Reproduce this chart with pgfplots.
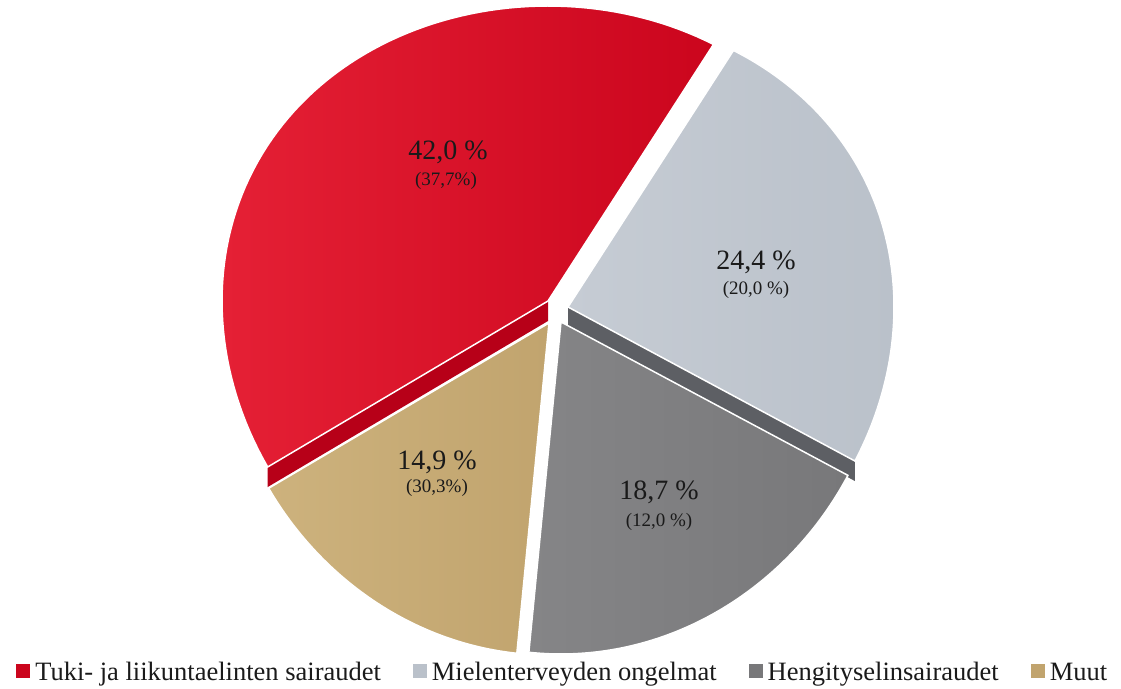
\documentclass[border=0pt]{standalone}
\usepackage{pgfplots}
\pgfplotsset{compat=1.18}
\usepackage{fontspec}
\setmainfont{Liberation Serif}

\definecolor{redA}{HTML}{E52035}
\definecolor{redB}{HTML}{CB051D}
\definecolor{redS}{HTML}{B70018}
\definecolor{lgA}{HTML}{C6CCD4}
\definecolor{lgB}{HTML}{BAC1CA}
\definecolor{lgS}{HTML}{5D5F64}
\definecolor{dgA}{HTML}{858587}
\definecolor{dgB}{HTML}{78787A}
\definecolor{tanA}{HTML}{CDB27D}
\definecolor{tanB}{HTML}{C1A46E}
\definecolor{txt}{HTML}{1A1A1A}

% shares (per cent)
\newcommand\valA{42.0}% Tuki- ja liikuntaelinten sairaudet
\newcommand\valB{24.4}% Mielenterveyden ongelmat
\newcommand\valC{18.7}% Hengityselinsairaudet
\newcommand\valD{14.9}% Muut

\pgfmathsetmacro\start{59.5}
\pgfmathsetmacro\aRedEnd{\start+3.6*\valA}
\pgfmathsetmacro\aLgEnd{\start-3.6*\valB}
\pgfmathsetmacro\aDgEnd{\aLgEnd-3.6*\valC}
\pgfmathsetmacro\aTanEnd{\aDgEnd-3.6*\valD}

% slice: t1, t2, cx, cy, colour A, colour B, lower radius
\newcommand\slice[7]{%
  \addplot[forget plot, draw=white, line width=1.5pt, left color=#5, right color=#6,
    domain=#1:#2, samples=90, variable=\t]
    ({#3+326*cos(\t)}, {#4+(315-#7*sin(\t))*sin(\t)}) -- (axis cs:#3,#4) -- cycle;
}

% red and light grey centres
\newcommand\rx{548}\newcommand\ry{387}
\newcommand\lx{568}\newcommand\ly{381}
% side faces
\pgfmathsetmacro\rcx{\rx+326*cos(\aRedEnd)}
\pgfmathsetmacro\rcy{\ry+(315-20*sin(\aRedEnd))*sin(\aRedEnd)}
\pgfmathsetmacro\rcyb{\rcy-20}
\pgfmathsetmacro\rayb{\ry-20}
\pgfmathsetmacro\lcx{\lx+326*cos(\aLgEnd)}
\pgfmathsetmacro\lcy{\ly+(315-20*sin(\aLgEnd))*sin(\aLgEnd)}
\pgfmathsetmacro\lcyb{\lcy-20}
\pgfmathsetmacro\layb{\ly-20}

\begin{document}
\begin{tikzpicture}
\begin{axis}[
  x=1pt, y=1pt,
  xmin=0, xmax=1121, ymin=0, ymax=688,
  hide axis, scale only axis, clip=false,
  legend columns=4,
  legend image code/.code={\fill[#1,draw=none] (0pt,-6pt) rectangle (14pt,8pt);},
  legend style={draw=none, fill=none, at={(0.502,0.023)}, anchor=center,
    font=\fontsize{26.5}{30}\selectfont, text=txt,
    /tikz/every even column/.append style={column sep=30pt},
    /tikz/every odd column/.append style={column sep=3pt}},
]
\path (axis cs:0,0) rectangle (axis cs:1121,688);

% side faces (thickness)
\addplot[forget plot, fill=redS, draw=none] coordinates {(\rx,\ry) (\rcx,\rcy) (\rcx,\rcyb) (\rx,\rayb)} -- cycle;
\addplot[forget plot, fill=lgS, draw=none] coordinates {(\lx,\ly) (\lcx,\lcy) (\lcx,\lcyb) (\lx,\layb)} -- cycle;

% top faces
\slice{\start}{\aRedEnd}{\rx}{\ry}{redA}{redB}{20}
\slice{\aLgEnd}{\start}{\lx}{\ly}{lgA}{lgB}{20}
\slice{\aDgEnd}{\aLgEnd}{561}{366}{dgA}{dgB}{17}
\slice{\aTanEnd}{\aDgEnd}{549}{365}{tanA}{tanB}{17}

% labels
\node[text=txt, font=\fontsize{28}{32}\selectfont] at (axis cs:448,536) {42,0 \%};
\node[text=txt, font=\fontsize{19}{22}\selectfont] at (axis cs:446,507) {(37,7\%)};
\node[text=txt, font=\fontsize{28}{32}\selectfont] at (axis cs:756,426) {24,4 \%};
\node[text=txt, font=\fontsize{19}{22}\selectfont] at (axis cs:756,398) {(20,0 \%)};
\node[text=txt, font=\fontsize{28}{32}\selectfont] at (axis cs:659,196) {18,7 \%};
\node[text=txt, font=\fontsize{19}{22}\selectfont] at (axis cs:659,166) {(12,0 \%)};
\node[text=txt, font=\fontsize{28}{32}\selectfont] at (axis cs:437,226) {14,9 \%};
\node[text=txt, font=\fontsize{19}{22}\selectfont] at (axis cs:437,200) {(30,3\%)};

\addlegendimage{fill=redB, draw=none}
\addlegendentry{Tuki- ja liikuntaelinten sairaudet}
\addlegendimage{fill=lgB, draw=none}
\addlegendentry{Mielenterveyden ongelmat}
\addlegendimage{fill=dgB, draw=none}
\addlegendentry{Hengityselinsairaudet}
\addlegendimage{fill=tanB, draw=none}
\addlegendentry{Muut}
\end{axis}
\end{tikzpicture}
\end{document}
